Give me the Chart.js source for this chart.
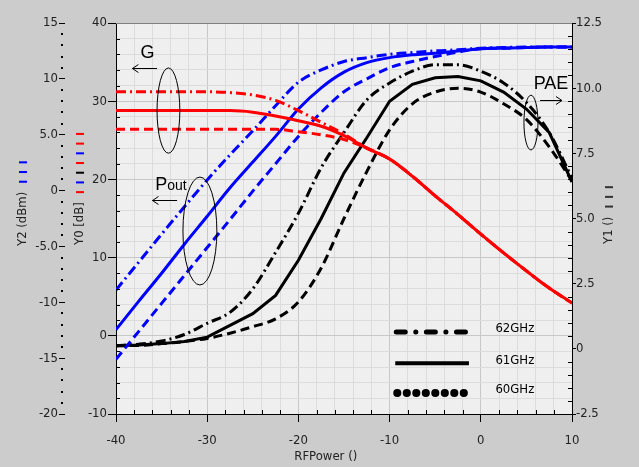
<!DOCTYPE html>
<html lang="en">
<head>
<meta charset="UTF-8">
<title>PA sweep 60-62 GHz</title>
<script src="https://cdn.jsdelivr.net/npm/chart.js"></script>
<style>
  html, body { margin: 0; padding: 0; background: #cccccc; }
</style>
</head>
<body>
<canvas id="paChart" width="639" height="467"></canvas>
<script>
// input power sweep (RFPower), same x grid for all curves
const rfPower = [-40, -37.5, -35, -32.5, -30, -27.5, -25, -22.5, -20, -17.5, -15, -12.5, -10, -7.5, -5, -2.5, 0, 2.5, 5, 7.5, 10];

// Pout, Y2 axis (dBm)
const pout62 = [-8.9, -6.4, -3.9, -1.45, 0.95, 3.2, 5.35, 7.6, 9.7, 10.8, 11.55, 11.9, 12.2, 12.35, 12.5, 12.6, 12.75, 12.8, 12.85, 12.85, 12.85];
const pout61 = [-12.45, -9.9, -7.4, -4.8, -2.3, 0.25, 2.55, 4.85, 7.3, 9.2, 10.6, 11.45, 11.9, 12.15, 12.3, 12.5, 12.7, 12.75, 12.8, 12.85, 12.85];
const pout60 = [-15.1, -12.6, -10.1, -7.6, -5.1, -2.6, -0.05, 2.4, 4.85, 7.0, 8.85, 10.0, 11.0, 11.55, 12.0, 12.4, 12.7, 12.75, 12.8, 12.85, 12.85];

// Gain, Y0 axis (dB)
const gain62 = [31.2, 31.2, 31.2, 31.2, 31.2, 31.1, 30.8, 30.1, 28.8, 27.3, 25.8, 24.0, 22.6, 20.4, 17.9, 15.5, 13.0, 10.6, 8.3, 6.1, 4.2];
const gain61 = [28.8, 28.8, 28.8, 28.8, 28.8, 28.8, 28.6, 28.1, 27.5, 26.8, 25.6, 24.0, 22.6, 20.4, 17.9, 15.5, 13.0, 10.6, 8.3, 6.1, 4.2];
const gain60 = [26.4, 26.4, 26.4, 26.4, 26.4, 26.4, 26.4, 26.4, 26.1, 25.7, 25.1, 24.0, 22.6, 20.4, 17.9, 15.5, 13.0, 10.6, 8.3, 6.1, 4.2];

// PAE, Y1 axis
const pae62 = [0.12, 0.18, 0.3, 0.55, 0.98, 1.4, 2.3, 3.7, 5.2, 6.95, 8.3, 9.55, 10.2, 10.65, 10.9, 10.9, 10.65, 10.2, 9.45, 8.3, 6.55];
const pae61 = [0.12, 0.15, 0.2, 0.28, 0.45, 0.9, 1.35, 2.05, 3.4, 5.0, 6.75, 8.1, 9.5, 10.15, 10.4, 10.45, 10.28, 9.85, 9.2, 8.3, 6.4];
const pae60 = [0.12, 0.13, 0.2, 0.28, 0.4, 0.6, 0.85, 1.15, 1.8, 3.1, 5.0, 6.8, 8.4, 9.4, 9.85, 10.0, 9.85, 9.4, 8.8, 7.75, 6.45];

const freqs = ['62GHz', '61GHz', '60GHz'];

const BLUE = '#0000ff', RED = '#ff0000', BLACK = '#000000';
const DASHDOT = [10, 4, 2, 4], DASHED = [9, 5], SOLID = [];
const tickFont = { family: "'DejaVu Sans Condensed', 'DejaVu Sans', sans-serif", size: 13 };
const noteFont = "'Liberation Sans', Arial, sans-serif";

function series(ys, axis, color, dash, tension) {
    return {
        data: rfPower.map((x, i) => ({ x: x, y: ys[i] })),
        yAxisID: axis,
        borderColor: color,
        borderDash: dash,
        borderWidth: 3,
        pointRadius: 0,
        fill: false,
        tension: tension,
        cubicInterpolationMode: tension ? 'monotone' : 'default'
    };
}

const isMult = (v, m) => Math.abs(v / m - Math.round(v / m)) < 1e-6;

// plot background + page background
const bgPlugin = {
    id: 'bg',
    beforeDraw(chart) {
        const { ctx, chartArea: a } = chart;
        ctx.save();
        ctx.fillStyle = '#cccccc';
        ctx.fillRect(0, 0, chart.width, chart.height);
        ctx.fillStyle = '#efefef';
        ctx.fillRect(a.left, a.top, a.right - a.left, a.bottom - a.top);
        ctx.restore();
    }
};

// minor ticks, Y2 dots, axis titles, notes, legend
const decorPlugin = {
    id: 'decor',
    afterDraw(chart) {
        const { ctx, chartArea: a } = chart;
        const sx = chart.scales.x, s0 = chart.scales.y0, s1 = chart.scales.y1, s2 = chart.scales.y2;
        ctx.save();

        // top border
        ctx.strokeStyle = '#808080';
        ctx.lineWidth = 1;
        ctx.beginPath();
        ctx.moveTo(a.left, a.top + 0.5);
        ctx.lineTo(a.right, a.top + 0.5);
        ctx.stroke();

        // inner minor ticks
        ctx.strokeStyle = '#000';
        ctx.beginPath();
        for (let v = -40; v <= 10; v += 2) {
            if (isMult(v, 10)) continue;
            const px = Math.round(sx.getPixelForValue(v)) + 0.5;
            ctx.moveTo(px, a.bottom); ctx.lineTo(px, a.bottom - 4);
        }
        for (let v = -10; v <= 40; v += 2) {
            if (isMult(v, 10)) continue;
            const py = Math.round(s0.getPixelForValue(v)) + 0.5;
            ctx.moveTo(a.left, py); ctx.lineTo(a.left + 4, py);
        }
        for (let v = -2.5; v <= 12.5; v += 0.5) {
            if (isMult(v, 2.5)) continue;
            const py = Math.round(s1.getPixelForValue(v)) + 0.5;
            ctx.moveTo(a.right, py); ctx.lineTo(a.right - 4, py);
        }
        ctx.stroke();

        // dotted Y2 axis
        ctx.fillStyle = '#000';
        for (let v = -20; v <= 15; v++) {
            if (isMult(v, 5)) continue;
            ctx.fillRect(s2.right - 4, Math.round(s2.getPixelForValue(v)) - 1, 2, 2);
        }

        // rotated axis titles with colour marks
        function vTitle(x, yStart, text, marks) {
            ctx.save();
            ctx.translate(x, yStart);
            ctx.rotate(-Math.PI / 2);
            ctx.font = `13px ${tickFont.family}`;
            ctx.fillStyle = '#222';
            ctx.textAlign = 'left';
            ctx.textBaseline = 'middle';
            ctx.fillText(text, 0, 0);
            let p = ctx.measureText(text).width + 10;
            marks.forEach(c => {
                ctx.fillStyle = c;
                ctx.fillRect(p - 1, -4, 2, 8);
                p += 9.7;
            });
            ctx.restore();
        }
        vTitle(23, 246, 'Y2 (dBm)', [BLUE, BLUE, BLUE]);
        vTitle(80, 245, 'Y0 [dB]', [RED, BLUE, BLACK, RED, BLUE, RED, RED]);
        vTitle(609, 244, 'Y1 ()', ['#333', '#333', '#333']);

        // x title
        ctx.font = `13px ${tickFont.family}`;
        ctx.fillStyle = '#222';
        ctx.textAlign = 'center';
        ctx.textBaseline = 'middle';
        ctx.fillText('RFPower ()', sx.getPixelForValue(-17), 457);

        // notes: ellipses and arrows
        ctx.strokeStyle = '#000';
        ctx.lineWidth = 1;
        function ellipse(x, y, scY, rx, ry) {
            const cx = sx.getPixelForValue(x), cy = scY.getPixelForValue(y);
            const w = Math.abs(sx.getPixelForValue(x + rx) - cx);
            const h = Math.abs(scY.getPixelForValue(y + ry) - cy);
            ctx.beginPath();
            ctx.ellipse(cx, cy, w, h, 0, 0, Math.PI * 2);
            ctx.stroke();
        }
        function arrow(x1, x2, y, scY) {
            const p1 = sx.getPixelForValue(x1), p2 = sx.getPixelForValue(x2);
            const py = Math.round(scY.getPixelForValue(y)) + 0.5;
            const d = p2 > p1 ? -6 : 6;
            ctx.beginPath();
            ctx.moveTo(p1, py); ctx.lineTo(p2, py);
            ctx.moveTo(p2 + d, py - 4); ctx.lineTo(p2, py); ctx.lineTo(p2 + d, py + 4);
            ctx.stroke();
        }
        ellipse(-34.25, 28.8, s0, 1.25, 5.45);
        ellipse(-30.8, 13.4, s0, 1.86, 6.9);
        ellipse(5.5, 8.68, s1, 0.77, 1.05);
        arrow(-35.5, -38.2, 34.25, s0);
        arrow(-33.3, -36.0, 17.4, s0);
        arrow(6.5, 8.9, 9.55, s1);

        ctx.fillStyle = '#000';
        ctx.textAlign = 'left';
        ctx.textBaseline = 'alphabetic';
        ctx.font = `18px ${noteFont}`;
        ctx.fillText('G', sx.getPixelForValue(-37.3), s0.getPixelForValue(35.5));
        ctx.fillText('PAE', sx.getPixelForValue(5.8), s1.getPixelForValue(9.95));
        const px = sx.getPixelForValue(-35.7), py = s0.getPixelForValue(18.6);
        ctx.fillText('P', px, py);
        const pw = ctx.measureText('P').width;
        ctx.font = `14px ${noteFont}`;
        ctx.fillText('out', px + pw, py);

        // legend (line samples + frequency labels)
        const lx1 = sx.getPixelForValue(-9.6), lx2 = sx.getPixelForValue(-1.3);
        const tx = sx.getPixelForValue(1.6);
        const rows = [0.5, -3.5, -7.3];
        ctx.strokeStyle = '#000';
        ctx.lineCap = 'round';
        // 62 dash-dot
        let ly = s0.getPixelForValue(rows[0]);
        ctx.lineWidth = 5;
        ctx.setLineDash([9, 10.5, 0.1, 10.5]);
        ctx.beginPath(); ctx.moveTo(lx1 + 3, ly); ctx.lineTo(lx2, ly); ctx.stroke();
        // 61 solid
        ly = s0.getPixelForValue(rows[1]);
        ctx.lineCap = 'butt';
        ctx.lineWidth = 4;
        ctx.setLineDash([]);
        ctx.beginPath(); ctx.moveTo(lx1 + 2, ly); ctx.lineTo(lx2, ly); ctx.stroke();
        // 60 dots
        ly = s0.getPixelForValue(rows[2]);
        ctx.lineCap = 'round';
        ctx.lineWidth = 8;
        ctx.setLineDash([0.1, 9.4]);
        ctx.beginPath(); ctx.moveTo(lx1 + 4, ly); ctx.lineTo(lx2, ly); ctx.stroke();
        ctx.setLineDash([]);

        ctx.font = `13px ${tickFont.family}`;
        ctx.textBaseline = 'middle';
        freqs.forEach((f, i) => ctx.fillText(f, tx, s0.getPixelForValue(rows[i]) - 3));

        ctx.restore();
    }
};

new Chart(document.getElementById('paChart'), {
    type: 'line',
    data: {
        datasets: [
            series(gain62, 'y0', RED, DASHDOT, 0.3),
            series(gain61, 'y0', RED, SOLID, 0.3),
            series(gain60, 'y0', RED, DASHED, 0.3),
            series(pout62, 'y2', BLUE, DASHDOT, 0.3),
            series(pout61, 'y2', BLUE, SOLID, 0.3),
            series(pout60, 'y2', BLUE, DASHED, 0.3),
            series(pae62, 'y1', BLACK, DASHDOT, 0.3),
            series(pae61, 'y1', BLACK, SOLID, 0),
            series(pae60, 'y1', BLACK, DASHED, 0.3)
        ]
    },
    options: {
        responsive: false,
        animation: false,
        devicePixelRatio: 1,
        layout: { padding: { top: 23, left: 0, right: 0, bottom: 0 } },
        plugins: { legend: { display: false }, tooltip: { enabled: false } },
        scales: {
            x: {
                type: 'linear', position: 'bottom', min: -40, max: 10,
                ticks: { stepSize: 2, autoSkip: false, maxRotation: 0, color: '#222', font: tickFont, padding: 11,
                         callback: v => isMult(v, 10) ? String(v) : '' },
                grid: { color: c => isMult(c.tick.value, 10) ? '#c8c8c8' : '#dcdcdc', tickLength: 8,
                        tickColor: c => isMult(c.tick.value, 10) ? '#000' : 'rgba(0,0,0,0)' },
                border: { color: '#000', width: 1 },
                afterFit: s => { s.height = 53; }
            },
            y0: {
                type: 'linear', position: 'left', weight: 0, min: -10, max: 40,
                ticks: { stepSize: 2, autoSkip: false, color: '#222', font: tickFont, padding: 1,
                         callback: v => isMult(v, 10) ? String(v) : '' },
                grid: { color: c => isMult(c.tick.value, 10) ? '#c8c8c8' : '#dcdcdc', tickLength: 8,
                        tickColor: c => isMult(c.tick.value, 10) ? '#000' : 'rgba(0,0,0,0)' },
                border: { color: '#000', width: 1 },
                afterFit: s => { s.width = 51; }
            },
            y2: {
                type: 'linear', position: 'left', weight: 1, min: -20, max: 15,
                ticks: { stepSize: 5, autoSkip: false, color: '#222', font: tickFont, padding: 1,
                         callback: v => (Math.abs(v) >= 10 || v === 0) ? String(v) : v.toFixed(1) },
                grid: { drawOnChartArea: false, tickLength: 6, tickColor: '#000' },
                border: { display: false },
                afterFit: s => { s.width = 65; }
            },
            y1: {
                type: 'linear', position: 'right', min: -2.5, max: 12.5,
                ticks: { stepSize: 0.5, autoSkip: false, color: '#222', font: tickFont, padding: 0,
                         callback: v => isMult(v, 2.5) ? (Math.abs(v) < 1e-6 ? '0' : v.toFixed(1)) : '' },
                grid: { drawOnChartArea: false, tickLength: 4,
                        tickColor: c => isMult(c.tick.value, 2.5) ? '#000' : 'rgba(0,0,0,0)' },
                border: { color: '#000', width: 1 },
                afterFit: s => { s.width = 67; }
            }
        }
    },
    plugins: [bgPlugin, decorPlugin]
});
</script>
</body>
</html>
